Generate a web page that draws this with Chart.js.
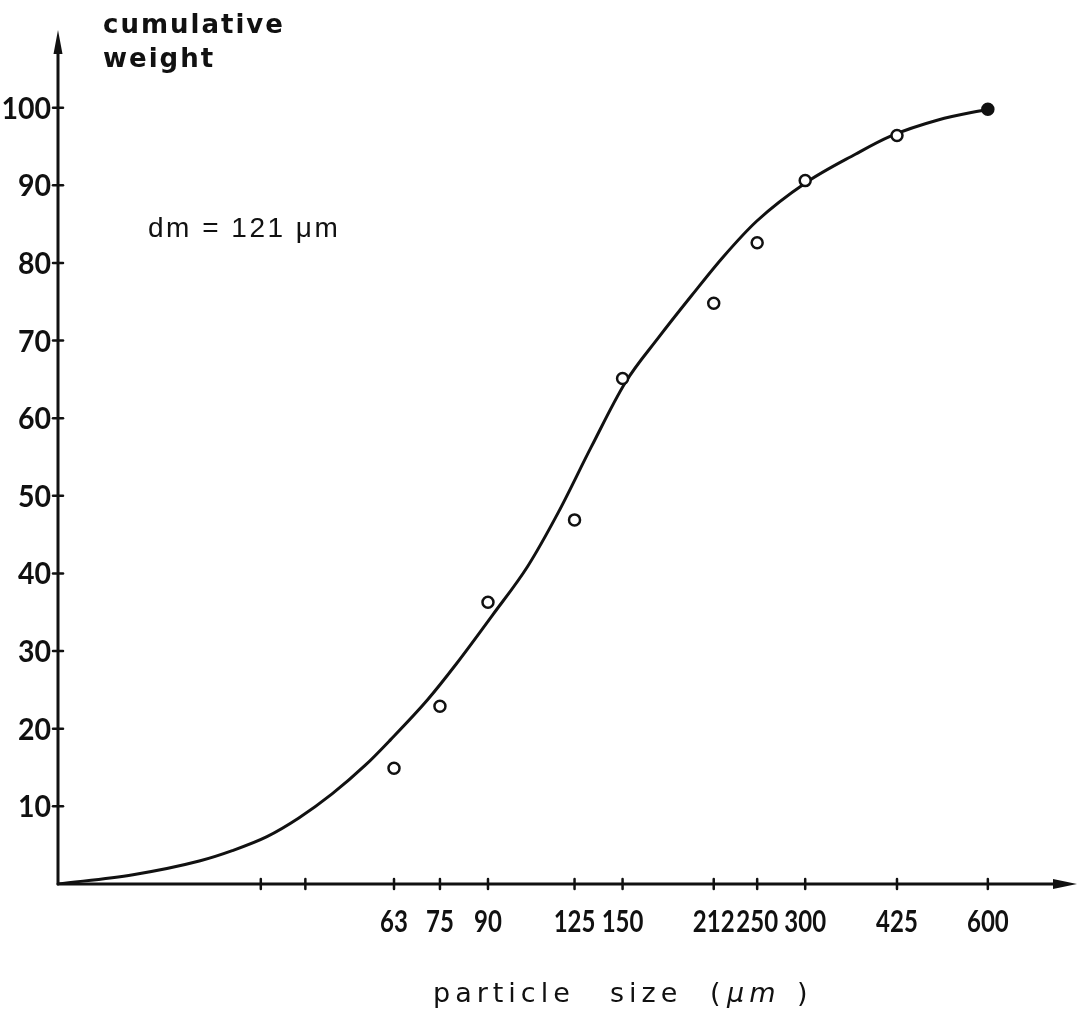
<!DOCTYPE html>
<html>
<head>
<meta charset="utf-8">
<script src="https://cdn.jsdelivr.net/npm/chart.js@4.4.1/dist/chart.umd.min.js"></script>
<style>
  html, body { margin: 0; padding: 0; background: #fff; }
  #wrap { width: 1086px; height: 1025px; }
</style>
</head>
<body>
<div id="wrap"><canvas id="sieveChart" width="1086" height="1025"></canvas></div>
<script>
// sieve sizes (um) and cumulative weight (%)
const sizeTicks = [38, 45, 63, 75, 90, 125, 150, 212, 250, 300, 425, 600];
const sizeLabels = [63, 75, 90, 125, 150, 212, 250, 300, 425, 600];
const weightTicks = [10, 20, 30, 40, 50, 60, 70, 80, 90, 100];

const sieveSizes = [63, 75, 90, 125, 150, 212, 250, 300, 425, 600];
const measuredWeight = [14.9, 22.9, 36.3, 46.9, 65.1, 74.8, 82.6, 90.6, 96.4, 99.8];

// hand drawn fitted curve, traced point by point
const curveSize = [17.6, 23.4, 30.2, 34.1, 38.9, 43.9, 49.8, 56.5, 62.2, 71.5, 79.9, 91.7, 104.6,
  117.6, 133.2, 151.6, 172.0, 194.5, 219.9, 249.7, 300.3, 362.9, 414, 496.7, 600];
const curveWeight = [0, 1.2, 3.0, 4.3, 6.1, 8.5, 11.6, 15.3, 18.6, 23.7, 28.4, 34.7, 40.9,
  47.9, 56.3, 64.6, 70.4, 75.7, 80.8, 85.4, 90.3, 94.0, 96.3, 98.4, 99.8];

const ink = "#111";

// narrow drafting-style numerals: squeeze the glyphs horizontally
function squeezedText(c, text, x, y, align, sx) {
  c.save();
  c.translate(x, y);
  c.scale(sx, 1);
  c.textAlign = align;
  c.fillText(text, 0, 0);
  c.restore();
}

/* axes with arrows, crossing tick marks and free texts */
const paperPlugin = {
  id: "paper",
  afterDraw(chart) {
    const c = chart.ctx;
    const xs = chart.scales.x, ys = chart.scales.y;
    const area = chart.chartArea;
    const x0 = area.left, y0 = area.bottom;

    c.save();
    c.strokeStyle = ink;
    c.fillStyle = ink;
    c.lineWidth = 3;
    c.lineCap = "round";

    // y axis
    c.beginPath();
    c.moveTo(x0, y0);
    c.lineTo(x0, area.top + 14);
    c.stroke();
    c.beginPath();
    c.moveTo(x0, area.top);
    c.lineTo(x0 - 4.5, area.top + 24);
    c.lineTo(x0 + 4.5, area.top + 24);
    c.closePath();
    c.fill();

    // x axis
    c.beginPath();
    c.moveTo(x0, y0);
    c.lineTo(area.right - 14, y0);
    c.stroke();
    c.beginPath();
    c.moveTo(area.right, y0);
    c.lineTo(area.right - 24, y0 - 5);
    c.lineTo(area.right - 24, y0 + 5);
    c.closePath();
    c.fill();

    // tick marks across the axes + numerals
    c.lineWidth = 2.5;
    c.textBaseline = "alphabetic";
    c.font = "bold 30px Lato, 'DejaVu Sans'";
    weightTicks.forEach(v => {
      const py = ys.getPixelForValue(v);
      c.beginPath();
      c.moveTo(x0 - 5, py);
      c.lineTo(x0 + 5, py);
      c.stroke();
      squeezedText(c, String(v), x0 - 7, py + 11, "right", 0.95);
    });
    sizeTicks.forEach(v => {
      const px = xs.getPixelForValue(v);
      c.beginPath();
      c.moveTo(px, y0 - 5);
      c.lineTo(px, y0 + 5);
      c.stroke();
      if (sizeLabels.includes(v)) {
        squeezedText(c, String(v), px, y0 + 48, "center", 0.8);
      }
    });

    // texts
    c.textAlign = "left";
    c.font = "bold 26px 'DejaVu Sans'";
    c.letterSpacing = "2px";
    c.fillText("cumulative", 103, 33);
    c.fillText("weight", 103, 67);

    c.font = "28px 'Liberation Sans'";
    c.letterSpacing = "2.5px";
    c.fillText("dm = 121 \u03bcm", 148, 237);

    c.font = "27px 'DejaVu Sans'";
    c.letterSpacing = "5px";
    c.fillText("particle", 433, 1002);
    c.fillText("size", 610, 1002);
    c.fillText("(", 710, 1002);
    c.font = "italic 27px 'DejaVu Sans'";
    c.fillText("\u03bcm", 727, 1002);
    c.font = "27px 'DejaVu Sans'";
    c.fillText(")", 797, 1002);
    c.restore();
  }
};

new Chart(document.getElementById("sieveChart"), {
  type: "scatter",
  data: {
    datasets: [
      {
        label: "fitted curve",
        data: curveSize.map((s, i) => ({ x: s, y: curveWeight[i] })),
        showLine: true,
        borderColor: ink,
        borderWidth: 3,
        pointRadius: 0,
        cubicInterpolationMode: "monotone",
        order: 2
      },
      {
        label: "measured",
        data: sieveSizes.map((s, i) => ({ x: s, y: measuredWeight[i] })),
        showLine: false,
        pointRadius: 5.5,
        pointBorderWidth: 2.5,
        pointBorderColor: ink,
        pointBackgroundColor: ctx => ctx.dataIndex === sieveSizes.length - 1 ? ink : "#fff",
        order: 1
      }
    ]
  },
  options: {
    responsive: false,
    animation: false,
    layout: { padding: { top: 30, right: 9, left: 0, bottom: 0 } },
    plugins: {
      legend: { display: false },
      tooltip: { enabled: false }
    },
    scales: {
      x: {
        type: "logarithmic",
        min: 17.6,
        max: 841.6,
        grid: { display: false, drawTicks: false },
        border: { display: false },
        afterBuildTicks: scale => {
          scale.ticks = sizeTicks.map(v => ({ value: v }));
        },
        afterFit: scale => { scale.height = 141; },
        ticks: { display: false, autoSkip: false }
      },
      y: {
        min: 0,
        max: 110,
        grid: { display: false, drawTicks: false },
        border: { display: false },
        afterBuildTicks: scale => {
          scale.ticks = weightTicks.map(v => ({ value: v }));
        },
        afterFit: scale => { scale.width = 58; },
        ticks: { display: false }
      }
    }
  },
  plugins: [paperPlugin]
});
</script>
</body>
</html>
